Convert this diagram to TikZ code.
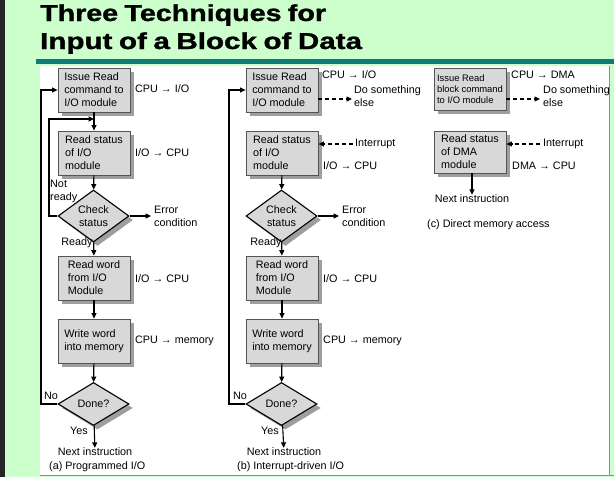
\documentclass[tikz,border=0pt]{standalone}
\usepackage{fontspec}
\setmainfont{Liberation Sans}
\newfontfamily\ttlfont{Liberation Sans Bold}[WordSpace=0.8,FakeBold=1.2]
\usetikzlibrary{shapes.geometric,arrows.meta,shadows}
\definecolor{bggreen}{HTML}{CCFFCC}
\definecolor{tealbar}{HTML}{0F7B77}
\definecolor{boxgray}{HTML}{D8D8D8}
\definecolor{edgegray}{HTML}{555555}
\begin{document}
\begin{tikzpicture}[x=1pt,y=-1pt,
  shd/.style={drop shadow={shadow xshift=4pt,shadow yshift=-4pt,fill=black!38,opacity=1}},
  box/.style={rectangle,draw=edgegray,line width=0.8pt,fill=boxgray,shd,
    minimum width=72pt,minimum height=44pt,inner sep=2pt,align=left,
    font=\fontsize{10.8}{13}\selectfont},
  sbox/.style={box,minimum height=42pt,font=\fontsize{9.4}{11}\selectfont},
  dia/.style={diamond,draw=black,line width=1.1pt,fill=boxgray,shd,
    minimum width=71pt,minimum height=43pt,inner sep=0pt,align=center,
    font=\fontsize{10.8}{13.5}\selectfont},
  txt/.style={inner sep=0pt,align=left,anchor=west,font=\fontsize{10.8}{13}\selectfont},
  arr/.style={draw=black,line width=1.1pt,-{Triangle[length=5.5pt,width=5pt]}},
  darr/.style={arr,dash pattern=on 4pt off 3pt},
  ttl/.style={inner sep=0pt,anchor=base west,font=\fontsize{23}{26}\ttlfont}
]
\useasboundingbox (0,0) rectangle (614,477);
% background
\fill[bggreen] (0,0) rectangle (614,477);
\fill[black!85] (0,0) rectangle (5,477);
\node[ttl] (t1) at (40,21) {\scalebox{1.245}[1]{Three Techniques for}};
\node[ttl] (t2) at (40,49) {\scalebox{1.285}[1]{Input of a Block of Data}};
\fill[tealbar] (36,59) rectangle (614,64);
\fill[white] (40,66) rectangle (609,475);
\draw[black!45,line width=0.8pt] (609,66) -- (609,475.5) (40,475.5) -- (614,475.5);

% ---------------- (a) Programmed I/O
\node[box] (a1) at (94,90) {Issue Read\\command to\\I/O module};
\node[box] (a2) at (94,153) {Read status\\of I/O\\module};
\node[dia] (a3) at (93.5,216) {Check\\status};
\node[box] (a4) at (94,278) {Read word\\from I/O\\Module};
\node[box] (a5) at (94,341) {Write word\\into memory};
\node[dia] (a6) at (93.5,404) {Done?};
\node[txt,anchor=center] (a7) at (95,452) {Next instruction};
\node[txt] (acap) at (49,467) {(a) Programmed I/O};
\coordinate (aj) at (94,119);
\coordinate (anr) at (49,119);
\coordinate (al) at (41,90);
\coordinate (ae) at (151,216);
\draw[arr] (a1) -- (a2);
\draw[arr] (a3.west) -| (anr) -- (aj);
\draw[arr] (a2) -- (a3);
\draw[arr] (a3) -- (a4);
\draw[arr] (a4) -- (a5);
\draw[arr] (a5) -- (a6);
\draw[arr] (a6) -- (a7);
\draw[arr] (a6.west) -| (al) -- (a1.west);
\draw[arr] (a3.east) -- (ae);
\node[txt] (ae1) at (154,216) {Error\\condition};
\node[txt] (anr1) at (50,191) {Not\\ready};
\node[txt,anchor=center] (ar) at (77,243) {Ready};
\node[txt,anchor=center] (ano) at (51,396) {No};
\node[txt,anchor=center] (ay) at (79,431) {Yes};
\node[txt] (al1) at (135,89) {CPU → I/O};
\node[txt] (al2) at (135,153) {I/O → CPU};
\node[txt] (al3) at (135,279) {I/O → CPU};
\node[txt] (al4) at (135,341) {CPU → memory};

% ---------------- (b) Interrupt-driven I/O
\node[box] (b1) at (282,90) {Issue Read\\command to\\I/O module};
\node[box] (b2) at (282,153) {Read status\\of I/O\\module};
\node[dia] (b3) at (281.5,216) {Check\\status};
\node[box] (b4) at (282,278) {Read word\\from I/O\\Module};
\node[box] (b5) at (282,341) {Write word\\into memory};
\node[dia] (b6) at (281.5,404) {Done?};
\node[txt,anchor=center] (b7) at (284,452) {Next instruction};
\node[txt] (bcap) at (237,467) {(b) Interrupt-driven I/O};
\coordinate (bl) at (229,90);
\coordinate (be) at (339,216);
\coordinate (bd) at (352,99);
\coordinate (bi) at (353,144);
\draw[arr] (b2) -- (b3);
\draw[arr] (b3) -- (b4);
\draw[arr] (b4) -- (b5);
\draw[arr] (b5) -- (b6);
\draw[arr] (b6) -- (b7);
\draw[arr] (b6.west) -| (bl) -- (b1.west);
\draw[arr] (b3.east) -- (be);
\draw[darr] (b1.east |- bd) -- (bd);
\draw[darr] (bi) -- (b2.east |- bi);
\node[txt] (be1) at (342,216) {Error\\condition};
\node[txt,anchor=center] (br) at (266,243) {Ready};
\node[txt,anchor=center] (bno) at (240,396) {No};
\node[txt,anchor=center] (by) at (270,431) {Yes};
\node[txt] (bl0) at (322,75) {CPU → I/O};
\node[txt] (bds) at (354,96) {Do something\\else};
\node[txt] (bint) at (355,144) {Interrupt};
\node[txt] (bl2) at (323,166) {I/O → CPU};
\node[txt] (bl3) at (323,279) {I/O → CPU};
\node[txt] (bl4) at (323,341) {CPU → memory};

% ---------------- (c) Direct memory access
\node[sbox] (c1) at (470,89) {Issue Read\\block command\\to I/O module};
\node[box,minimum height=42pt] (c2) at (470,152) {Read status\\of DMA\\module};
\node[txt,anchor=center] (c3) at (472,199) {Next instruction};
\node[txt] (ccap) at (427,225) {(c) Direct memory access};
\coordinate (cd) at (540,99);
\coordinate (ci) at (540,144);
\draw[arr] (c2.south -| c3) -- (c3);
\draw[darr] (c1.east |- cd) -- (cd);
\draw[darr] (ci) -- (c2.east |- ci);
\node[txt] (cl0) at (511,75) {CPU → DMA};
\node[txt] (cds) at (543,96) {Do something\\else};
\node[txt] (cint) at (543,144) {Interrupt};
\node[txt] (cl2) at (512,166) {DMA → CPU};
\end{tikzpicture}
\end{document}
